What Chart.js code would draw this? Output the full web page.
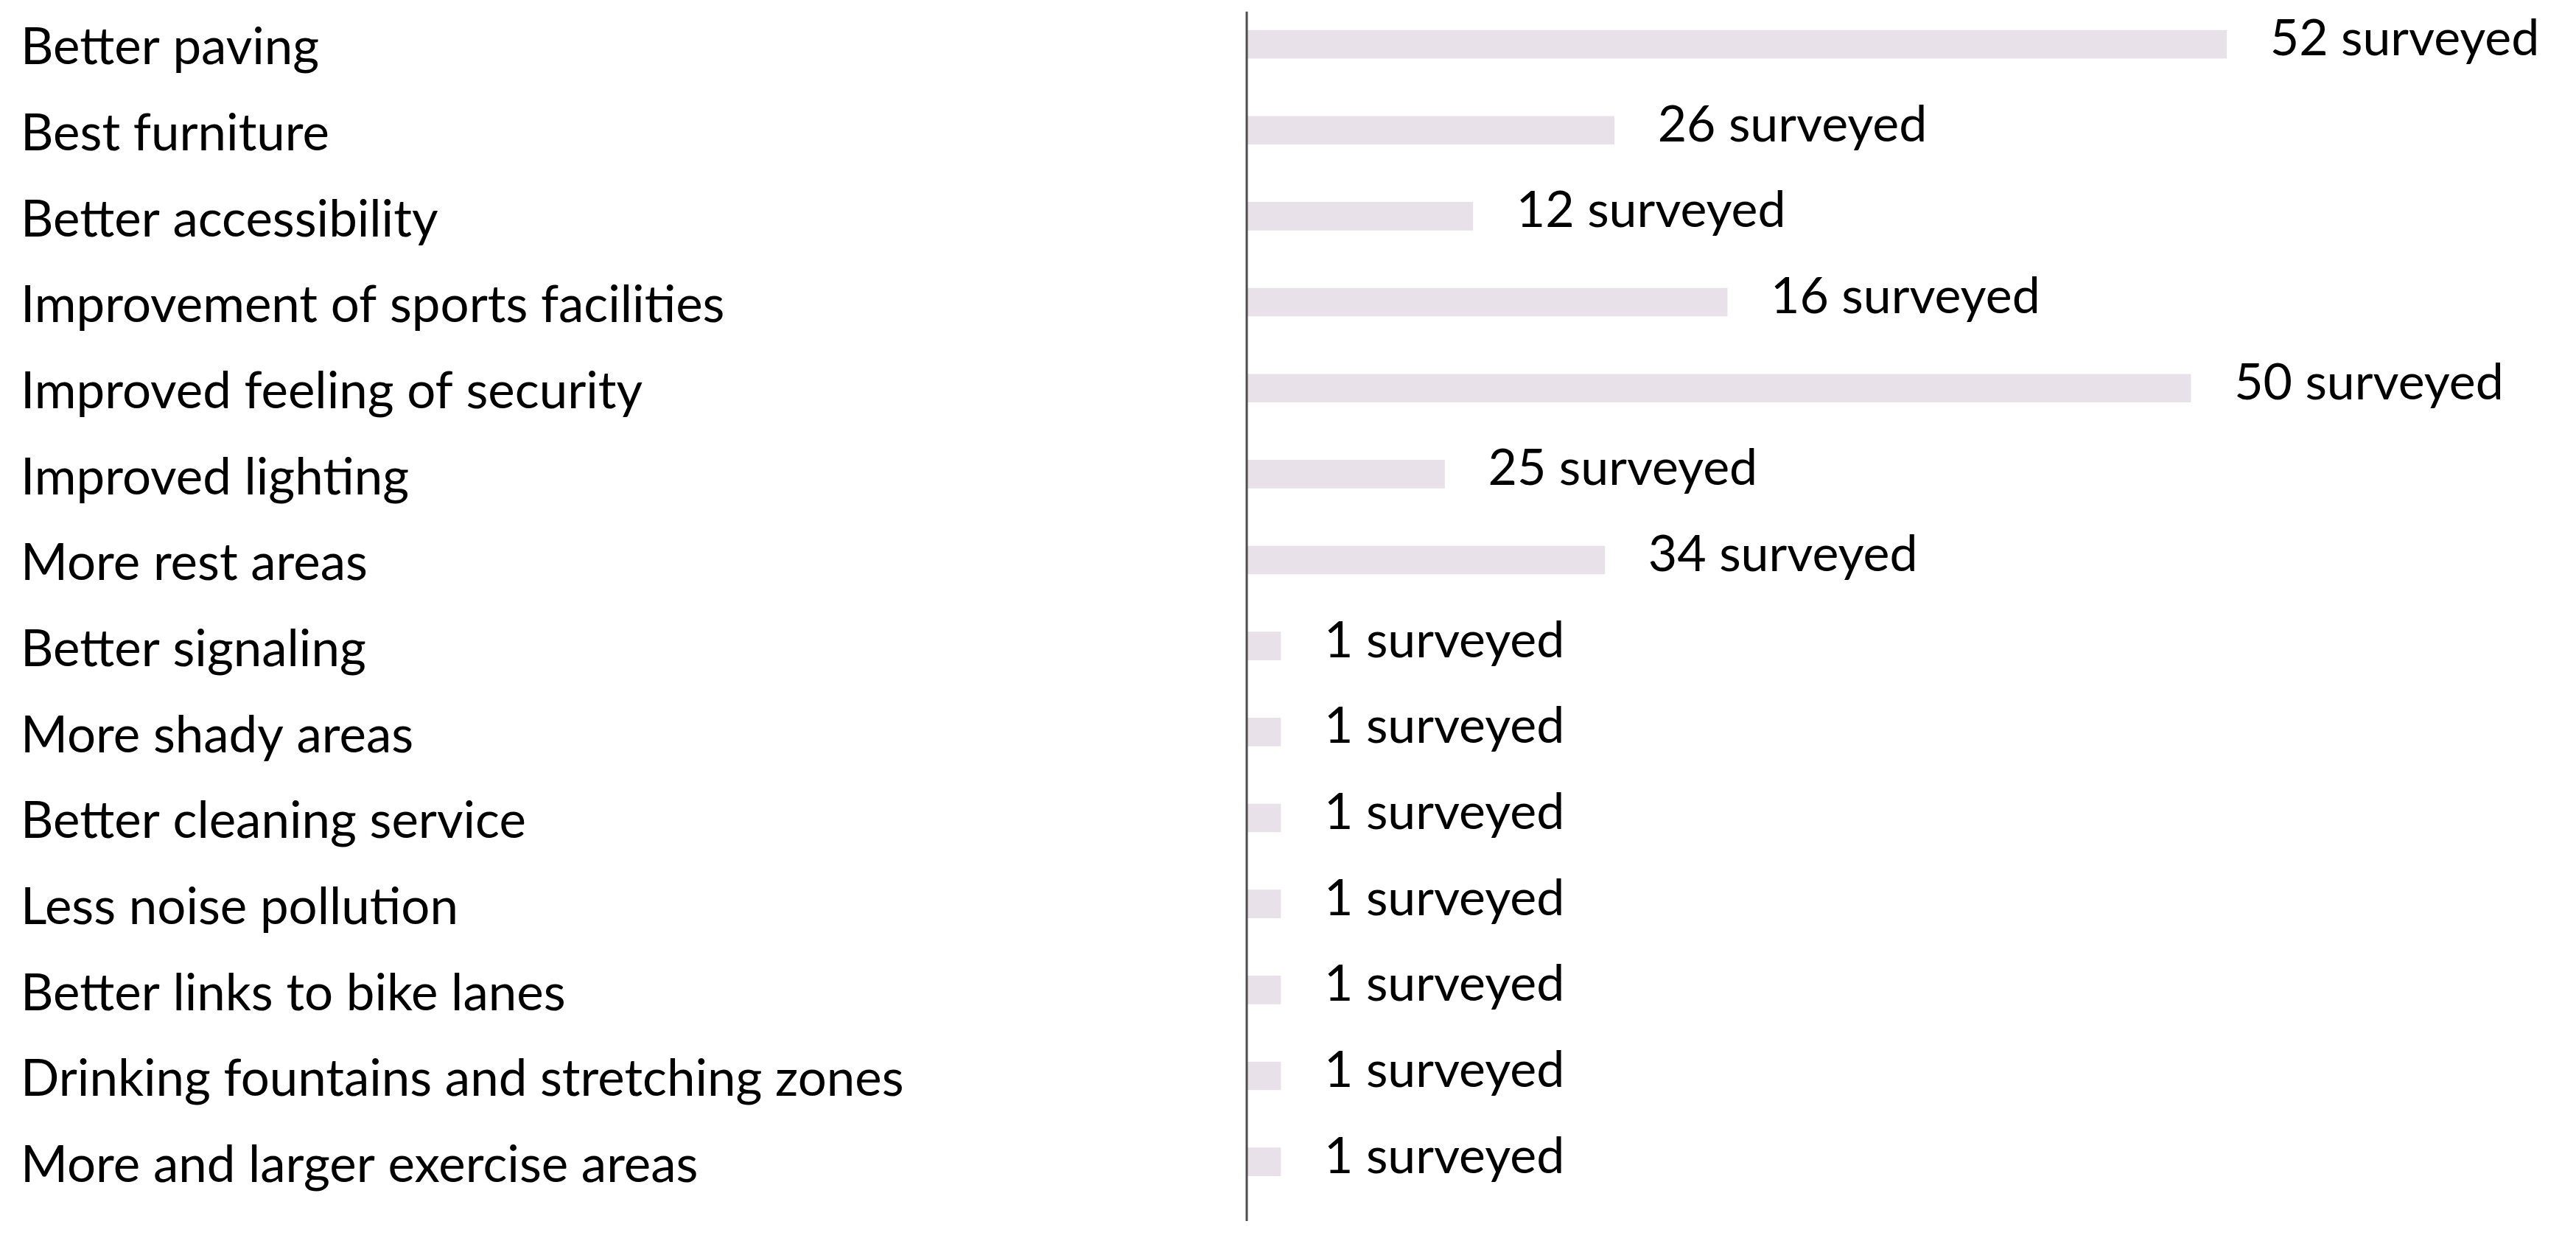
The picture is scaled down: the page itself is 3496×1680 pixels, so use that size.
<!DOCTYPE html>
<html>
<head>
<meta charset="utf-8">
<script src="https://cdn.jsdelivr.net/npm/chart.js@4.4.1/dist/chart.umd.min.js"></script>
<style>
  html, body { margin: 0; padding: 0; background: #ffffff; }
  #wrap { width: 3496px; height: 1680px; position: relative; }
</style>
</head>
<body>
<div id="wrap"><canvas id="c" width="3496" height="1680"></canvas></div>
<script>
// Categories (top to bottom)
const categories = [
  "Better paving",
  "Best furniture",
  "Better accessibility",
  "Improvement of sports facilities",
  "Improved feeling of security",
  "Improved lighting",
  "More rest areas",
  "Better signaling",
  "More shady areas",
  "Better cleaning service",
  "Less noise pollution",
  "Better links to bike lanes",
  "Drinking fountains and stretching zones",
  "More and larger exercise areas"
];
// Bar lengths as drawn in the picture (same units as the 52 / 12 / 50 bars)
const barValues = [52, 19.5, 12, 25.5, 50.1, 10.5, 19.0, 1.8, 1.8, 1.8, 1.8, 1.8, 1.8, 1.8];
// Counts printed next to each bar
const surveyedCounts = [52, 26, 12, 16, 50, 25, 34, 1, 1, 1, 1, 1, 1, 1];
const valueLabels = surveyedCounts.map(n => n + " surveyed");
// Value axis range
const xMin = 0;
const xMax = 70;

const FONT = "Lato";
const FONT_SIZE = 69;
const VALUE_FONT_SIZE = 68;

const valueLabelPlugin = {
  id: "valueLabels",
  afterDatasetsDraw(chart) {
    const ctx = chart.ctx;
    const meta = chart.getDatasetMeta(0);
    ctx.save();
    ctx.font = VALUE_FONT_SIZE + "px " + FONT;
    ctx.fillStyle = "#000000";
    ctx.textAlign = "left";
    ctx.textBaseline = "middle";
    meta.data.forEach((bar, i) => {
      ctx.fillText(valueLabels[i], bar.x + 59, bar.y - 7);
    });
    ctx.restore();
  }
};

const axisLinePlugin = {
  id: "axisLine",
  afterDatasetsDraw(chart) {
    const ctx = chart.ctx;
    const a = chart.chartArea;
    ctx.save();
    ctx.strokeStyle = "#4d4d4d";
    ctx.lineWidth = 3;
    ctx.beginPath();
    ctx.moveTo(a.left, a.top + 14);
    ctx.lineTo(a.left, a.bottom + 22);
    ctx.stroke();
    ctx.restore();
  }
};

new Chart(document.getElementById("c"), {
  type: "bar",
  data: {
    labels: categories,
    datasets: [{
      data: barValues,
      backgroundColor: "#e9e1e9",
      borderWidth: 0,
      barThickness: 38
    }]
  },
  options: {
    indexAxis: "y",
    responsive: false,
    animation: false,
    devicePixelRatio: 1,
    layout: { padding: { left: 28, right: 14, top: 0, bottom: 45 } },
    plugins: {
      legend: { display: false },
      tooltip: { enabled: false }
    },
    scales: {
      x: {
        display: false,
        min: xMin,
        max: xMax
      },
      y: {
        position: "left",
        grid: { display: false, drawTicks: false },
        border: { display: false },
        ticks: {
          color: "#000000",
          crossAlign: "far",
          padding: 0,
          labelOffset: 5,
          autoSkip: false,
          font: { family: FONT, size: FONT_SIZE, lineHeight: 0.05 }
        },
        afterFit(scale) { scale.width = 1664; }
      }
    }
  },
  plugins: [valueLabelPlugin, axisLinePlugin]
});
</script>
</body>
</html>
